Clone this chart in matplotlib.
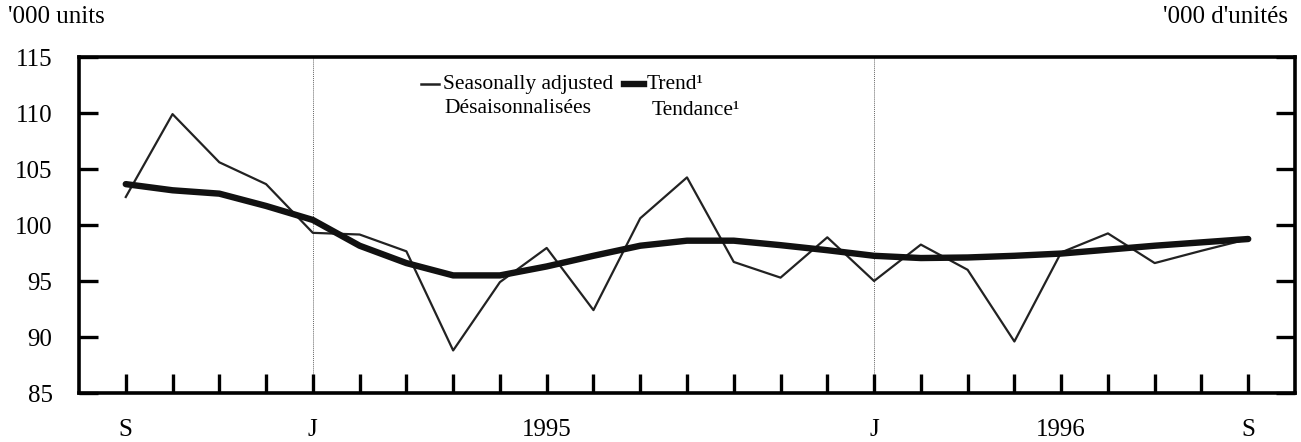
import matplotlib
matplotlib.use("Agg")
import matplotlib.pyplot as plt
import numpy as np

plt.rcParams['font.family'] = ['Liberation Serif', 'DejaVu Serif']

months = list(range(25))  # Sep 1994 .. Sep 1996
seasonally_adjusted = [102.5, 109.9, 105.6, 103.65, 99.3, 99.15, 97.65, 88.8,
                       94.9, 97.95, 92.4, 100.6, 104.25, 96.7, 95.3, 98.9,
                       95.0, 98.25, 96.0, 89.6, 97.55, 99.25, 96.6, 97.7, 98.75]
trend = [103.65, 103.1, 102.8, 101.7, 100.45, 98.15, 96.6, 95.5,
         95.5, 96.3, 97.25, 98.15, 98.6, 98.6, 98.2, 97.75,
         97.25, 97.05, 97.1, 97.25, 97.45, 97.8, 98.15, 98.45, 98.75]
xlabel_pos = [0, 4, 9, 16, 20, 24]
xlabel_text = ['S', 'J', '1995', 'J', '1996', 'S']
jan_pos = [4, 16]
yticks = [85, 90, 95, 100, 105, 110, 115]

fig = plt.figure(figsize=(13.01, 4.42), dpi=100)
ax = fig.add_axes([79/1301, 1-393/442, (1295-79)/1301, (393-57)/442])

ax.set_xlim(-1, 25)
ax.set_ylim(85, 115)

tick_len_data = 19/336*30
ax.vlines(jan_pos, 85 + tick_len_data, 115, colors='#666666', linestyles=(0, (1, 1)), linewidth=0.7, zorder=1)

ax.plot(months, seasonally_adjusted, color='#222222', linewidth=1.6, zorder=3)
ax.plot(months, trend, color='#111111', linewidth=4.6, solid_capstyle='round', zorder=4)

for s in ['left', 'right', 'bottom', 'top']:
    ax.spines[s].set_linewidth(2.6)
    ax.spines[s].set_color('black')

ax.set_yticks(yticks)
ax.set_yticklabels([str(v) for v in yticks], fontsize=18)
ax.tick_params(axis='y', which='major', direction='in', length=14, width=2.4,
               left=True, right=True, labelleft=True, labelright=False, pad=19)

ax.set_xticks(months)
ax.set_xticklabels([''] * len(months))
ax.tick_params(axis='x', which='major', direction='in', length=14, width=2.4,
               bottom=True, top=False, pad=0)

for p, t in zip(xlabel_pos, xlabel_text):
    ax.text(p, -0.11, t, transform=ax.get_xaxis_transform(), ha='center', va='center', fontsize=18)

fig.text(8/1301, 1-17/442, "'000 units", ha='left', va='center', fontsize=18)
fig.text(1288/1301, 1-17/442, "'000 d'unités", ha='right', va='center', fontsize=18)

# legend
tr = ax.transAxes
ax.plot([0.2812, 0.2961], [0.9196, 0.9196], transform=tr, color='#222222', linewidth=1.8, clip_on=False)
ax.text(0.2995, 0.9196, 'Seasonally adjusted', transform=tr, ha='left', va='center', fontsize=15.5)
ax.text(0.3003, 0.848, 'Désaisonnalisées', transform=tr, ha='left', va='center', fontsize=15.5)
ax.plot([0.4482, 0.4646], [0.9196, 0.9196], transform=tr, color='#111111', linewidth=4.6, clip_on=False)
ax.text(0.4672, 0.9196, 'Trend¹', transform=tr, ha='left', va='center', fontsize=15.5)
ax.text(0.4712, 0.842, 'Tendance¹', transform=tr, ha='left', va='center', fontsize=15.5)

fig.savefig('out.png', dpi=100)
